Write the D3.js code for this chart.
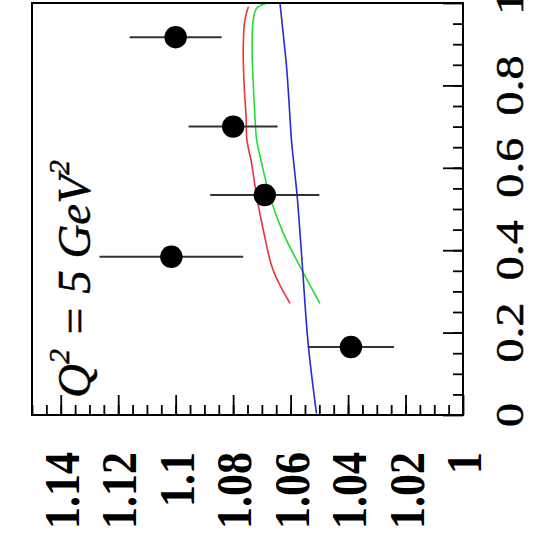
<!DOCTYPE html>
<html>
<head>
<meta charset="utf-8">
<script src="https://cdn.jsdelivr.net/npm/d3@7/dist/d3.min.js"></script>
<style>
  html, body { margin: 0; padding: 0; background: #ffffff; }
  svg { display: block; }
</style>
</head>
<body>
<script>
// Measured ratio vs. x at Q^2 = 5 GeV^2 (the plot is drawn turned a quarter turn)
const pointX     = [0.165, 0.384, 0.534, 0.700, 0.917];
const pointRatio = [1.039, 1.1015, 1.069, 1.080, 1.100];
const pointErr   = [0.015, 0.025, 0.019, 0.0155, 0.016];

// Model curves
const redX   = [0.271, 0.352, 0.449, 0.530, 0.612, 0.667, 0.723, 0.806, 0.886, 0.959, 0.991];
const redY   = [1.0602, 1.0661, 1.0695, 1.0718, 1.0736, 1.0752, 1.0755, 1.0762, 1.0765, 1.0759, 1.0747];
const greenX = [0.271, 0.376, 0.442, 0.530, 0.612, 0.667, 0.723, 0.806, 0.886, 0.959, 0.987, 1.000];
const greenY = [1.0498, 1.0579, 1.0626, 1.0672, 1.0701, 1.0718, 1.0724, 1.0730, 1.0734, 1.0730, 1.0718, 1.0683];
const blueX  = [0.004, 0.174, 0.352, 0.449, 0.530, 0.612, 0.667, 0.765, 0.845, 0.927, 1.000];
const blueY  = [1.0510, 1.0539, 1.0558, 1.0568, 1.0577, 1.0589, 1.0597, 1.0606, 1.0614, 1.0626, 1.0637];

// Tick values and labels
const xTickValues     = [0, 0.2, 0.4, 0.6, 0.8, 1];
const xTickLabels     = ["0", "0.2", "0.4", "0.6", "0.8", "1"];
const ratioTickValues = [1, 1.02, 1.04, 1.06, 1.08, 1.1, 1.12, 1.14];
const ratioTickLabels = ["1", "1.02", "1.04", "1.06", "1.08", "1.1", "1.12", "1.14"];

const W = 533, H = 540;
const frame = { left: 32, right: 463, top: 3, bottom: 415 };

const svg = d3.select("body").append("svg")
  .attr("width", W).attr("height", H)
  .style("background", "#ffffff");

// x runs upward along the right edge, the ratio runs leftward along the bottom
const xScale = d3.scaleLinear().domain([0, 1]).range([frame.bottom, frame.top]);
const rScale = d3.scaleLinear().domain([1, 1.15]).range([frame.right, frame.left]);

// Bottom axis (ratio) with inward ticks
const bottomMajor = d3.axisBottom(rScale).tickValues(ratioTickValues)
  .tickSizeInner(-20).tickSizeOuter(0).tickFormat("");
const bottomMinor = d3.axisBottom(rScale).tickValues(d3.range(1.005, 1.15, 0.005))
  .tickSizeInner(-10).tickSizeOuter(0).tickFormat("");

// Right axis (x) with inward ticks
const rightMajor = d3.axisRight(xScale).tickValues(xTickValues)
  .tickSizeInner(-20).tickSizeOuter(0).tickFormat("");
const rightMinor = d3.axisRight(xScale).tickValues(d3.range(0.05, 1.0, 0.05))
  .tickSizeInner(-10).tickSizeOuter(0).tickFormat("");

function styleAxis(g) {
  g.select(".domain").remove();
  g.selectAll(".tick line").attr("stroke", "#000").attr("stroke-width", 1.8);
}

svg.append("g").attr("transform", `translate(0,${frame.bottom})`).call(bottomMinor).call(styleAxis);
svg.append("g").attr("transform", `translate(0,${frame.bottom})`).call(bottomMajor).call(styleAxis);
svg.append("g").attr("transform", `translate(${frame.right},0)`).call(rightMinor).call(styleAxis);
svg.append("g").attr("transform", `translate(${frame.right},0)`).call(rightMajor).call(styleAxis);

// Model curves
const curveLine = d3.line()
  .x(d => rScale(d[1]))
  .y(d => xScale(d[0]))
  .curve(d3.curveCatmullRom.alpha(0.5));

const curves = [
  { xs: redX, ys: redY, color: "#e8343a" },
  { xs: greenX, ys: greenY, color: "#22dd33" },
  { xs: blueX, ys: blueY, color: "#2a2ad0" }
];
curves.forEach(c => {
  svg.append("path")
    .datum(d3.zip(c.xs, c.ys))
    .attr("fill", "none")
    .attr("stroke", c.color)
    .attr("stroke-width", 1.6)
    .attr("d", curveLine);
});

// Data points with error bars
const pts = d3.range(pointX.length).map(i => ({ x: pointX[i], r: pointRatio[i], e: pointErr[i] }));

svg.append("g").selectAll("line").data(pts).join("line")
  .attr("x1", d => rScale(d.r - d.e))
  .attr("x2", d => rScale(d.r + d.e))
  .attr("y1", d => xScale(d.x))
  .attr("y2", d => xScale(d.x))
  .attr("stroke", "#333")
  .attr("stroke-width", 2);

svg.append("g").selectAll("circle").data(pts).join("circle")
  .attr("cx", d => rScale(d.r))
  .attr("cy", d => xScale(d.x))
  .attr("r", 11.2)
  .attr("fill", "#000");

// Frame
svg.append("rect")
  .attr("x", frame.left).attr("y", frame.top)
  .attr("width", frame.right - frame.left).attr("height", frame.bottom - frame.top)
  .attr("fill", "none").attr("stroke", "#000").attr("stroke-width", 2);

// Ratio labels below the frame, reading upward
svg.append("g").selectAll("text").data(ratioTickValues).join("text")
  .attr("transform", d => `translate(${rScale(d) + 1},452) rotate(-90) scale(1,1.15)`)
  .attr("text-anchor", "end")
  .attr("dominant-baseline", "central")
  .attr("font-family", "'Liberation Serif', 'Times New Roman', serif")
  .attr("font-weight", "bold")
  .attr("font-size", 44)
  .attr("fill", "#000")
  .text((d, i) => ratioTickLabels[i]);

// x labels right of the frame, reading upward
svg.append("g").selectAll("text").data(xTickValues).join("text")
  .attr("transform", d => `translate(510,${xScale(d)}) rotate(-90) scale(1,0.84)`)
  .attr("text-anchor", "middle")
  .attr("dominant-baseline", "central")
  .attr("font-family", "'Liberation Serif', 'Times New Roman', serif")
  .attr("font-size", 48)
  .attr("fill", "#000")
  .attr("stroke", "#000")
  .attr("stroke-width", 0.6)
  .text((d, i) => xTickLabels[i]);

// Q^2 annotation
const q = svg.append("text")
  .attr("transform", "translate(90,398) rotate(-90)")
  .attr("font-family", "'Liberation Serif', 'Times New Roman', serif")
  .attr("font-style", "italic")
  .attr("font-size", 47)
  .attr("fill", "#000")
  .attr("stroke", "#000")
  .attr("stroke-width", 0.5);
q.append("tspan").text("Q");
q.append("tspan").attr("font-size", 30).attr("dy", -21).text("2");
q.append("tspan").attr("dy", 21).text(" = 5 GeV");
q.append("tspan").attr("font-size", 30).attr("dy", -21).text("2");
</script>
</body>
</html>
